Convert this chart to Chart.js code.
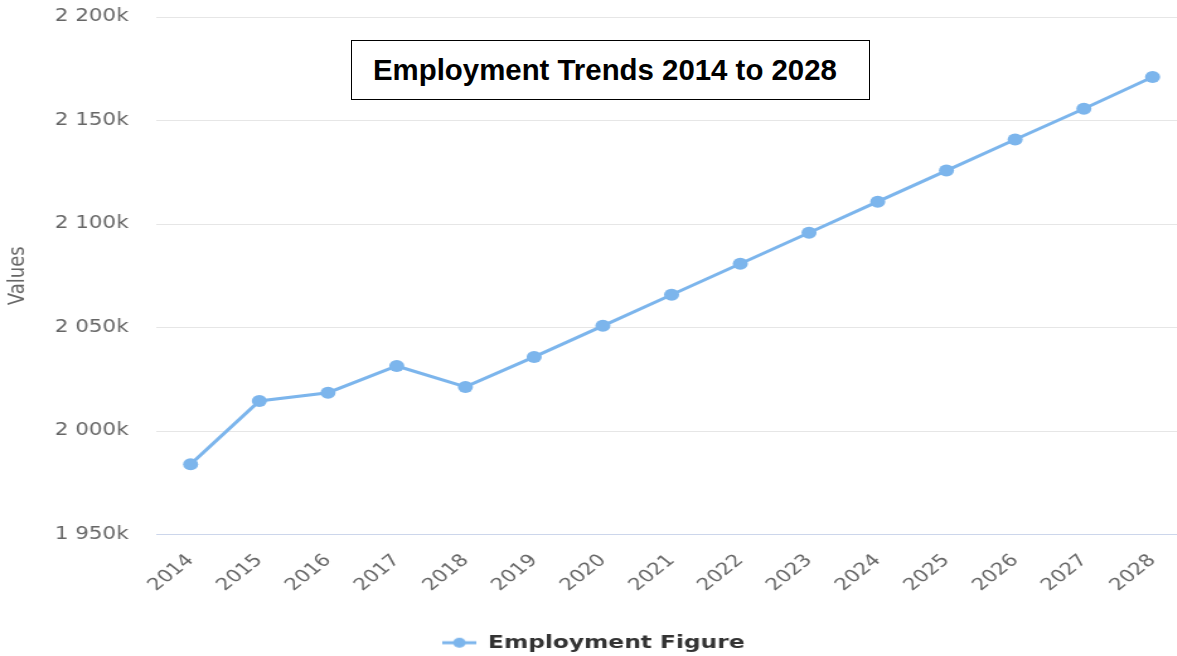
<!DOCTYPE html>
<html>
<head>
<meta charset="utf-8">
<script src="https://cdn.jsdelivr.net/npm/chart.js@4.4.1/dist/chart.umd.min.js"></script>
<style>
  html, body { margin: 0; padding: 0; background: #fff; overflow: hidden; }
  body { width: 1177px; height: 656px; position: relative; }
  #wrap { position: absolute; left: 0; top: 0; transform: scaleX(1.26); transform-origin: 0 0; }
  #wrap canvas { display: block; }
  #title {
    position: absolute; left: 351px; top: 40px; width: 496px; height: 58px;
    padding-left: 21px;
    border: 1px solid #000; background: #fff;
    font-family: "Liberation Sans", Arial, sans-serif; font-weight: bold; font-size: 29.4px;
    color: #000; display: flex; align-items: center; justify-content: flex-start;
    box-sizing: content-box; white-space: nowrap;
  }
</style>
</head>
<body>
<div id="wrap"><canvas id="chart" width="948" height="664"></canvas></div>
<div id="title">Employment Trends 2014 to 2028</div>
<script>
// Employment figures by year (persons)
const years = ['2014', '2015', '2016', '2017', '2018', '2019', '2020', '2021',
               '2022', '2023', '2024', '2025', '2026', '2027', '2028'];
const employment = [1983900, 2014500, 2018500, 2031400, 2021300, 2035800, 2050800, 2065800,
                    2080800, 2095800, 2110800, 2125800, 2140800, 2155700, 2171000];
const yTicks = [1950000, 2000000, 2050000, 2100000, 2150000, 2200000];
const seriesName = 'Employment Figure';
const axisTitle = 'Values';

const lineColor = '#7cb5ec';

// "2 200k" style labels: thousands with a space as group separator
function fmtK(v) {
  const k = Math.round(v / 1000).toString();
  return k.replace(/\B(?=(\d{3})+(?!\d))/g, ' ') + 'k';
}

// legend marker: short line with a dot in the middle
const marker = document.createElement('canvas');
marker.width = 27; marker.height = 14;
(function () {
  const g = marker.getContext('2d');
  g.strokeStyle = lineColor; g.lineWidth = 3;
  g.beginPath(); g.moveTo(0, 7); g.lineTo(27, 7); g.stroke();
  g.fillStyle = lineColor;
  g.beginPath(); g.arc(13.5, 7, 5, 0, Math.PI * 2); g.fill();
})();

// nudge the legend row slightly left of the canvas centre
const legendShift = {
  id: 'legendShift',
  afterLayout(chart) {
    if (chart.legend) { chart.legend.left -= 3; chart.legend.right -= 3; }
  }
};

Chart.defaults.font.family = '"DejaVu Sans", Verdana, sans-serif';

new Chart(document.getElementById('chart'), {
  type: 'line',
  data: {
    labels: years,
    datasets: [{
      label: seriesName,
      data: employment,
      borderColor: lineColor,
      backgroundColor: lineColor,
      borderWidth: 3,
      pointRadius: 6,
      pointBorderWidth: 0,
      pointBackgroundColor: lineColor,
      tension: 0,
      fill: false
    }]
  },
  plugins: [legendShift],
  options: {
    responsive: false,
    animation: false,
    layout: { padding: { top: 17, right: 0, bottom: 2, left: 0 } },
    scales: {
      x: {
        offset: true,
        grid: { display: false, drawTicks: false },
        border: { display: false },
        ticks: {
          color: '#666666',
          font: { size: 17 },
          minRotation: 45, maxRotation: 45, autoSkip: false,
          padding: 16
        },
        afterFit(axis) {
          axis.height = 89;
          axis.paddingLeft = 0; axis.paddingRight = 0;
        }
      },
      y: {
        min: yTicks[0],
        max: yTicks[yTicks.length - 1],
        afterBuildTicks(axis) { axis.ticks = yTicks.map(v => ({ value: v })); },
        grid: {
          drawTicks: false,
          color: ctx => (ctx.tick && ctx.tick.value === yTicks[0]) ? '#ccd6eb' : '#e6e6e6',
          lineWidth: 1
        },
        border: { display: false },
        ticks: {
          color: '#666666',
          font: { size: 17 },
          padding: 22,
          callback: v => fmtK(v)
        },
        title: {
          display: true,
          text: axisTitle,
          color: '#666666',
          font: { size: 18 },
          padding: { top: 4, bottom: 4 }
        },
        afterFit(axis) {
          axis.width = 124;
          axis.paddingTop = 0; axis.paddingBottom = 0;
        }
      }
    },
    plugins: {
      legend: {
        position: 'bottom',
        labels: {
          usePointStyle: true,
          pointStyle: marker,
          pointStyleWidth: 27,
          color: '#333333',
          font: { size: 18.5, weight: 'bold' },
          padding: 10
        }
      },
      tooltip: { enabled: false }
    }
  }
});
</script>
</body>
</html>
